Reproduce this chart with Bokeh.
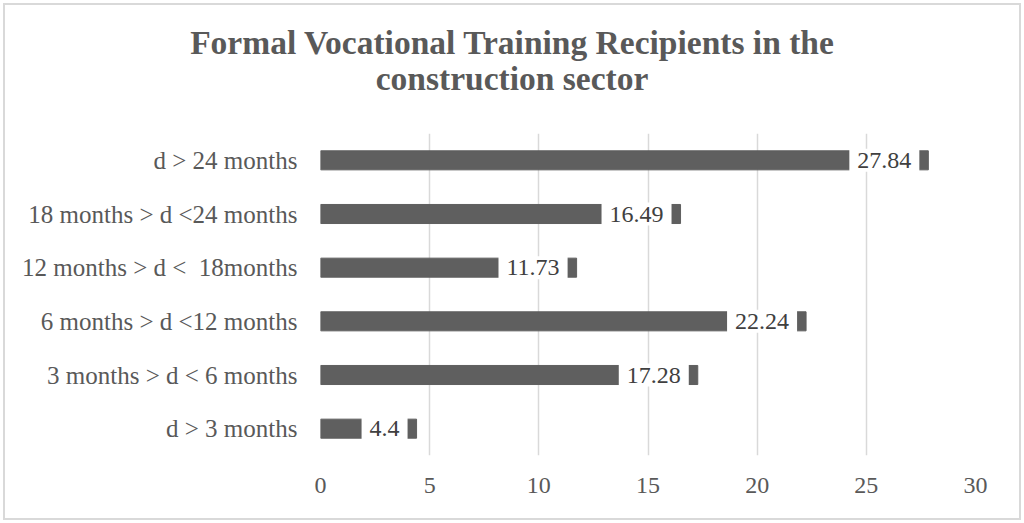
from bokeh.plotting import figure
from bokeh.layouts import column
from bokeh.models import Range1d, FactorRange, FixedTicker, ColumnDataSource, Div
from bokeh.core.properties import value
from bokeh.embed import file_html
from bokeh.resources import INLINE

categories = ["d > 3 months", "3 months > d < 6 months", "6 months > d <12 months",
              "12 months > d <\u00a0 18months", "18 months > d <24 months", "d > 24 months"]
values = [4.4, 17.28, 22.24, 11.73, 16.49, 27.84]
labels = ["4.4", "17.28", "22.24", "11.73", "16.49", "27.84"]
x_ticks = [0, 5, 10, 15, 20, 25, 30]
title_lines = ["Formal Vocational Training Recipients in the", "construction sector"]

FONT = "Liberation Serif"
GRAY = "#595959"

# --- title (HTML text) ---
title_html = (
    '<div style="padding-top:20px; text-align:center; font-family:\'Liberation Serif\', serif; '
    'font-size:33.5px; font-weight:bold; color:%s; line-height:36px; width:1014px;">%s<br>%s</div>'
    % (GRAY, title_lines[0], title_lines[1])
)
t = Div(text=title_html, width=1014, height=100)
t.margin = (0, 0, 0, 0)

# --- chart ---
src = ColumnDataSource(dict(cat=categories, val=values, lab=labels))
p = figure(width=1014, height=413, output_backend="svg", toolbar_location=None,
           y_range=FactorRange(*categories, range_padding=0), x_range=Range1d(0, 30),
           min_border_left=315, min_border_right=44, min_border_top=28, min_border_bottom=63)
p.margin = (0, 0, 0, 0)
p.outline_line_color = None
p.background_fill_color = "white"
p.border_fill_color = "white"
p.title.visible = False

p.hbar(y="cat", right="val", left=0, height=0.355, source=src, color="#5f5f5f")
p.text(x="val", y="cat", text="lab", source=src, x_offset=-9, text_align="right",
       text_baseline="middle", text_font=value(FONT), text_font_size="24px",
       text_color="#404040", background_fill_color="white",
       padding=dict(left=8, right=8, top=4, bottom=4))

p.xaxis.ticker = FixedTicker(ticks=x_ticks)
p.xgrid.ticker = FixedTicker(ticks=x_ticks)
p.xgrid.grid_line_color = "#d9d9d9"
p.xgrid.grid_line_width = 1.5
p.ygrid.grid_line_color = None
for ax in (p.xaxis[0], p.yaxis[0]):
    ax.axis_line_color = None
    ax.major_tick_line_color = None
    ax.minor_tick_line_color = None
    ax.major_label_text_font = FONT
    ax.major_label_text_color = GRAY
p.xaxis.major_label_text_font_size = "24px"
p.xaxis.major_label_standoff = 16
p.yaxis.major_label_text_font_size = "25px"
p.yaxis.major_label_standoff = 17

layout = column(t, p, spacing=0)
layout.margin = (3, 3, 3, 3)
layout.styles = {"border": "2px solid #d9d9d9", "background-color": "white"}

open("out.html", "w").write(file_html(layout, INLINE))
